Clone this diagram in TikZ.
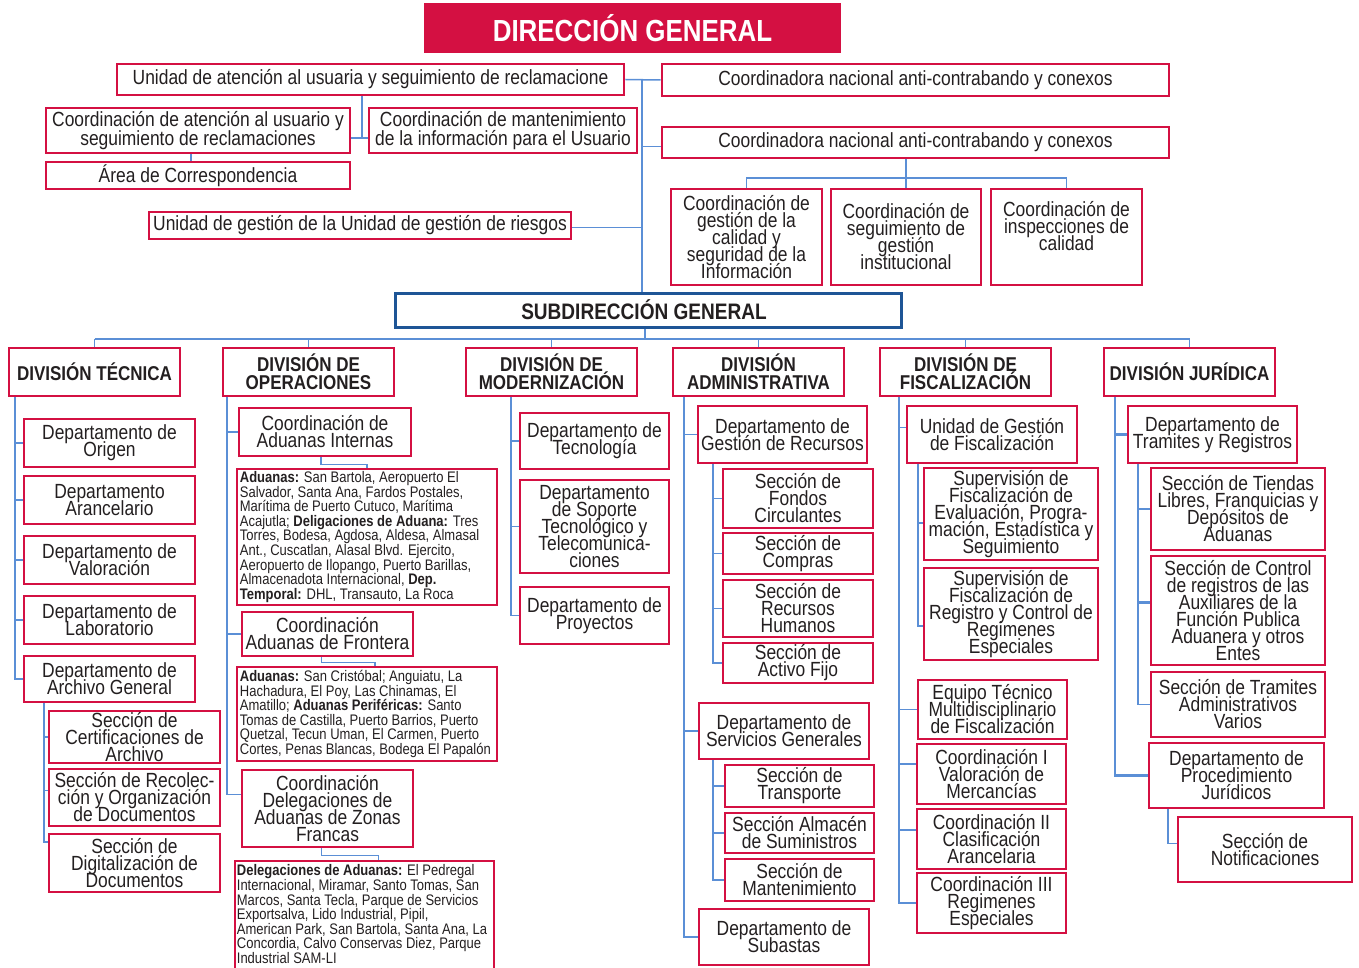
\documentclass[tikz,border=0pt]{standalone}
\usepackage{fontspec}
\setmainfont{Liberation Sans}[FakeStretch=0.85]
\usetikzlibrary{fit}
\definecolor{crim}{RGB}{212,16,66}
\definecolor{lnk}{RGB}{91,143,214}
\definecolor{navy}{RGB}{30,85,150}
\definecolor{ink}{RGB}{35,31,32}
\newcommand\tightlines{\lineskiplimit-100pt\relax}
\tikzset{
  box/.style={draw=crim, line width=2.6pt, inner sep=0pt},
  topbox/.style={box},
  divbox/.style={box},
  smallbox/.style={box},
  basetxt/.style={inner sep=0pt, align=center, text=ink},
  boxtxt/.style={basetxt, font={\fontsize{20.5}{17}\selectfont\tightlines}},
  topboxtxt/.style={basetxt, font={\fontsize{20.5}{19}\selectfont\tightlines}},
  divboxtxt/.style={basetxt, font={\fontsize{20}{18}\selectfont\bfseries\tightlines}},
  smallboxtxt/.style={basetxt, align=left,
    font={\fontsize{15.3}{14.6}\selectfont\tightlines}},
  conn/.style={draw=lnk, line width=1.5pt},
  thickconn/.style={draw=lnk, line width=2.6pt},
}
% #1 style, #2 name, #3 corner points, #4 text
\newcommand\bx[4][box]{%
  \node[#1, fit={#3}] (#2) {};
  \node[#1txt] (#2-t) at (#2.center) {#4};}
% left-aligned small text box
\newcommand\sbx[3]{%
  \node[smallbox, fit={#2}] (#1) {};
  \node[smallboxtxt, anchor=west] (#1-t) at ([xshift=4pt]#1.west) {#3};}
\begin{document}
\begin{tikzpicture}[x=1pt,y=-1pt]
\useasboundingbox (0,0) rectangle (1359,968);

% ---------- top level ----------
\node[fill=crim, inner sep=0pt, fit={(424,3)(841,53)}] (dg) {};
\node[inner sep=0pt, text=white, font=\fontsize{30.5}{32}\selectfont\bfseries] (dg-t) at (dg.center) {DIRECCIÓN GENERAL};
\bx[topbox]{u1}{(117,64)(624,95)}{Unidad de atención al usuaria y seguimiento de reclamacione}
\bx[topbox]{c1}{(662,64)(1169,96)}{Coordinadora nacional anti-contrabando y conexos}
\bx[topbox]{c2}{(662,127)(1169,158)}{Coordinadora nacional anti-contrabando y conexos}
\bx[topbox]{a1}{(46,108)(350,153)}{Coordinación de atención al usuario y\\seguimiento de reclamaciones}
\bx[topbox]{a2}{(369,108)(637,153)}{Coordinación de mantenimiento\\de la información para el Usuario}
\bx[topbox]{a3}{(46,162)(350,189)}{Área de Correspondencia}
\bx[topbox]{u2}{(149,212)(571,239)}{Unidad de gestión de la Unidad de gestión de riesgos}
\bx{q1}{(671,189)(822,285)}{Coordinación de\\gestión de la\\calidad y\\seguridad de la\\Información}
\bx{q2}{(831,189)(981,285)}{Coordinación de\\seguimiento de\\gestión\\institucional}
\node[box, fit={(991,189)(1142,285)}] (q3) {};
\node[boxtxt] (q3-t) at ([yshift=11pt]q3.center) {Coordinación de\\inspecciones de\\calidad};
\node[draw=navy, line width=3pt, inner sep=0pt, fit={(395,293)(901,327)}] (sub) {};
\node[inner sep=0pt, text=ink, font=\fontsize{22.4}{24}\selectfont\bfseries] (sub-t) at ([xshift=-4pt]sub.center) {SUBDIRECCIÓN GENERAL};

\coordinate (trk) at (642,0);
\coordinate (ua) at (362,138);
\coordinate (aa) at (191,0);
\coordinate (qh) at (0,178);
\draw[conn] (u1.east) -- (c1.west);
\draw[conn] (u1.east -| trk) -- (sub.north -| trk);
\draw[conn] ([yshift=-4pt]c2.west) -- ([yshift=-4pt]c2.west -| trk);
\draw[conn] ([yshift=-2pt]u2.east) -- ([yshift=-2pt]u2.east -| trk);
\draw[conn] (u1.south -| ua) -- (ua);
\draw[conn] (a1.east |- ua) -- (a2.west |- ua);
\draw[conn] (a1.south -| aa) -- (a3.north -| aa);
\draw[conn] (q2.north |- c2.south) -- (q2.north);
\draw[conn] (q1.north) -- (q1.north |- qh) -- (q3.north |- qh) -- (q3.north);

% ---------- divisions ----------
\bx[divbox]{dt}{(9,348)(180,396)}{DIVISIÓN TÉCNICA}
\bx[divbox]{do}{(223,348)(394,396)}{DIVISIÓN DE\\OPERACIONES}
\bx[divbox]{dm}{(466,348)(637,396)}{DIVISIÓN DE\\MODERNIZACIÓN}
\bx[divbox]{da}{(673,348)(844,396)}{DIVISIÓN\\ADMINISTRATIVA}
\bx[divbox]{df}{(880,348)(1051,396)}{DIVISIÓN DE\\FISCALIZACIÓN}
\bx[divbox]{dj}{(1104,348)(1275,396)}{DIVISIÓN JURÍDICA}

\coordinate (dh) at (0,339);
\draw[conn] ([xshift=-3pt]sub.south) -- ([xshift=-3pt]sub.south |- dh);
\draw[conn] (dt.north |- dh) -- (dj.north |- dh);
\foreach \d in {dt,do,dm,da,df,dj} \draw[conn] (\d.north) -- (\d.north |- dh);

% ---------- Division Tecnica ----------
\bx{t1}{(24,419)(195,467)}{Departamento de\\Origen}
\bx{t2}{(24,476)(195,524)}{Departamento\\Arancelario}
\bx{t3}{(24,536)(195,584)}{Departamento de\\Valoración}
\bx{t4}{(24,596)(195,644)}{Departamento de\\Laboratorio}
\bx{t5}{(24,656)(195,702)}{Departamento de\\Archivo General}
\bx{t6}{(49,711)(220,763)}{Sección de\\Certificaciones de\\Archivo}
\bx{t7}{(49,769)(220,826)}{Sección de Recolec-\\ción y Organización\\de Documentos}
\bx{t8}{(49,834)(220,892)}{Sección de\\Digitalización de\\Documentos}
\coordinate (xdt) at (15,0);
\coordinate (xt5) at (44,0);
\draw[conn] (dt.south -| xdt) |- (t5.west);
\foreach \b in {t1,t2,t3,t4} \draw[conn] (\b.west) -- (\b.west -| xdt);
\draw[conn] (t5.south -| xt5) |- ([yshift=21pt]t8.west);
\draw[conn] (t6.west) -- (t6.west -| xt5);
\draw[conn] ([yshift=7pt]t7.west) -- ([yshift=7pt]t7.west -| xt5);

% ---------- Division de Operaciones ----------
\bx{o1}{(239,408)(411,456)}{Coordinación de\\Aduanas Internas}
\sbx{tb1}{(237,469)(497,605)}{\textbf{Aduanas:} San Bartola, Aeropuerto El\\
Salvador, Santa Ana, Fardos Postales,\\
Marítima de Puerto Cutuco, Marítima\\
Acajutla; \textbf{Deligaciones de Aduana:} Tres\\
Torres, Bodesa, Agdosa, Aldesa, Almasal\\
Ant., Cuscatlan, Alasal Blvd. Ejercito,\\
Aeropuerto de Ilopango, Puerto Barillas,\\
Almacenadota Internacional, \textbf{Dep.}\\
\textbf{Temporal:} DHL, Transauto, La Roca}
\bx{o2}{(242,612)(413,656)}{Coordinación\\Aduanas de Frontera}
\sbx{tb2}{(237,667)(497,761)}{\textbf{Aduanas:} San Cristóbal; Anguiatu, La\\
Hachadura, El Poy, Las Chinamas, El\\
Amatillo; \textbf{Aduanas Periféricas:} Santo\\
Tomas de Castilla, Puerto Barrios, Puerto\\
Quetzal, Tecun Uman, El Carmen, Puerto\\
Cortes, Penas Blancas, Bodega El Papalón}
\bx{o3}{(242,770)(413,847)}{Coordinación\\Delegaciones de\\Aduanas de Zonas\\Francas}
\node[smallbox, fit={(235,861)(494,976)}] (tb3) {};
\node[smallboxtxt, anchor=north west] (tb3-t) at ([xshift=3pt,yshift=-5pt]tb3.north west) {\textbf{Delegaciones de Aduanas:} El Pedregal\\
Internacional, Miramar, Santo Tomas, San\\
Marcos, Santa Tecla, Parque de Servicios\\
Exportsalva, Lido Industrial, Pipil,\\
American Park, San Bartola, Santa Ana, La\\
Concordia, Calvo Conservas Diez, Parque\\
Industrial SAM-LI};
\coordinate (xdo) at (227,0);
\draw[conn] (do.south -| xdo) |- ([yshift=14pt]o3.west);
\draw[conn] (o1.west) -- (o1.west -| xdo);
\draw[conn] (o2.west) -- (o2.west -| xdo);
\draw[conn] ([xshift=-4pt]o1.south) -- ++(0,7) -| (tb1.north);
\draw[conn] ([xshift=-6pt]o2.south) -- ++(0,5) -| ([xshift=8pt]tb2.north);
\draw[conn] ([xshift=-6pt]o3.south) -- ++(0,7) -| ([xshift=14pt]tb3.north);

% ---------- Division de Modernizacion ----------
\bx{m1}{(520,413)(669,469)}{Departamento de\\Tecnología}
\bx{m2}{(520,480)(669,573)}{Departamento\\de Soporte\\Tecnológico y\\Telecomunica-\\ciones}
\bx{m3}{(520,587)(669,644)}{Departamento de\\Proyectos}
\coordinate (xdm) at (511,0);
\draw[conn] (dm.south -| xdm) |- (m3.west);
\draw[conn] (m1.west) -- (m1.west -| xdm);
\draw[conn] (m2.west) -- (m2.west -| xdm);

% ---------- Division Administrativa ----------
\bx{ga1}{(698,406)(867,463)}{Departamento de\\Gestión de Recursos}
\bx{s1}{(723,469)(873,528)}{Sección de\\Fondos\\Circulantes}
\bx{s2}{(723,533)(873,574)}{Sección de\\Compras}
\bx{s3}{(723,580)(873,637)}{Sección de\\Recursos\\Humanos}
\bx{s4}{(723,643)(873,683)}{Sección de\\Activo Fijo}
\bx{ga2}{(699,703)(869,759)}{Departamento de\\Servicios Generales}
\bx{s5}{(725,765)(874,807)}{Sección de\\Transporte}
\bx{s6}{(725,813)(874,853)}{Sección Almacén\\de Suministros}
\bx{s7}{(725,859)(874,901)}{Sección de\\Mantenimiento}
\bx{ga3}{(699,909)(869,965)}{Departamento de\\Subastas}
\coordinate (xda) at (684,0);
\coordinate (xga) at (713,0);
\draw[conn] (da.south -| xda) |- (ga3.west);
\draw[conn] (ga1.west) -- (ga1.west -| xda);
\draw[conn] (ga2.west) -- (ga2.west -| xda);
\draw[conn] (ga1.south -| xga) |- (s4.west);
\foreach \b in {s1,s2,s3} \draw[conn] (\b.west) -- (\b.west -| xga);
\draw[conn] (ga2.south -| xga) |- (s7.west);
\foreach \b in {s5,s6} \draw[conn] (\b.west) -- (\b.west -| xga);

% ---------- Division de Fiscalizacion ----------
\bx{f1}{(907,406)(1077,463)}{Unidad de Gestión\\de Fiscalización}
\bx{f2}{(924,468)(1098,560)}{Supervisión de\\Fiscalización de\\Evaluación, Progra-\\mación, Estadística y\\Seguimiento}
\bx{f3}{(924,568)(1098,660)}{Supervisión de\\Fiscalización de\\Registro y Control de\\Regimenes\\Especiales}
\bx{f4}{(918,680)(1067,739)}{Equipo Técnico\\Multidisciplinario\\de Fiscalización}
\bx{f5}{(917,744)(1066,804)}{Coordinación I\\Valoración de\\Mercancías}
\bx{f6}{(917,809)(1066,869)}{Coordinación II\\Clasificación\\Arancelaria}
\bx{f7}{(917,873)(1066,933)}{Coordinación III\\Regimenes\\Especiales}
\coordinate (xdf) at (899,0);
\coordinate (xf1) at (918,0);
\draw[conn] (df.south -| xdf) |- (f7.west);
\draw[conn] ([yshift=7pt]f1.west) -- ([yshift=7pt]f1.west -| xdf);
\draw[conn] (f4.west) -- (f4.west -| xdf);
\draw[conn] ([yshift=10pt]f5.west) -- ([yshift=10pt]f5.west -| xdf);
\draw[conn] ([yshift=9pt]f6.west) -- ([yshift=9pt]f6.west -| xdf);
\draw[conn] (f1.south -| xf1) |- ([yshift=-12pt]f3.west);
\draw[conn] ([yshift=-9pt]f2.west) -- ([yshift=-9pt]f2.west -| xf1);

% ---------- Division Juridica ----------
\bx{j1}{(1128,406)(1297,463)}{Departamento de\\Tramites y Registros}
\bx{j2}{(1151,468)(1325,550)}{Sección de Tiendas\\Libres, Franquicias y\\Depósitos de\\Aduanas}
\bx{j3}{(1151,556)(1325,665)}{Sección de Control\\de registros de las\\Auxiliares de la\\Función Publica\\Aduanera y otros\\Entes}
\bx{j4}{(1151,672)(1325,737)}{Sección de Tramites\\Administrativos\\Varios}
\bx{j5}{(1149,743)(1324,808)}{Departamento de\\Procedimiento\\Jurídicos}
\bx{j6}{(1178,817)(1352,882)}{Sección de\\Notificaciones}
\coordinate (xdj) at (1115,0);
\coordinate (xj1) at (1138,0);
\coordinate (xj5) at (1168,0);
\draw[thickconn] (dj.south -| xdj) |- (j5.west);
\draw[thickconn] (j1.west) -- (j1.west -| xdj);
\draw[conn] (j1.south -| xj1) |- (j4.west);
\draw[thickconn] (j2.west) -- (j2.west -| xj1);
\draw[thickconn] ([yshift=8pt]j3.west) -- ([yshift=8pt]j3.west -| xj1);
\draw[conn] (j5.south -| xj5) |- ([yshift=6pt]j6.west);
\end{tikzpicture}
\end{document}
